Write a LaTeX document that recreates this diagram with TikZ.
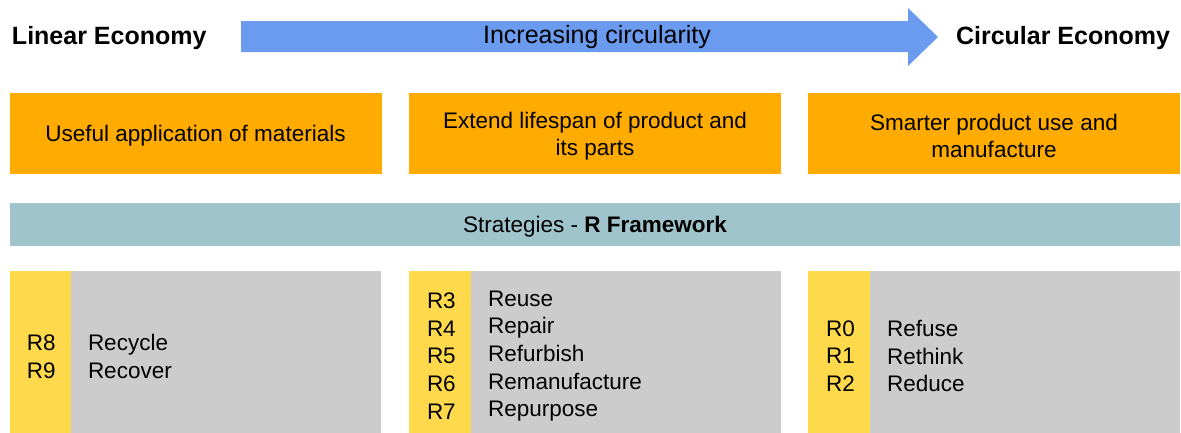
\documentclass[tikz,border=0pt]{standalone}
\usepackage{fontspec}
\setmainfont{Liberation Sans}
\begin{document}
\definecolor{arrowblue}{HTML}{6A9BEE}
\definecolor{boxorange}{HTML}{FFAB00}
\definecolor{barteal}{HTML}{9FC4CB}
\definecolor{codeyellow}{HTML}{FFD94C}
\definecolor{listgray}{HTML}{CCCCCC}
\begin{tikzpicture}[x=1pt,y=-1pt,
  every node/.style={inner sep=0pt, outer sep=0pt, text=black},
  headtext/.style={font=\fontsize{25}{30}\selectfont\bfseries},
  goalbox/.style={fill=boxorange, minimum width=372pt, minimum height=81pt},
  goaltext/.style={align=center, font=\fontsize{22.5}{27.5}\selectfont},
  codestrip/.style={fill=codeyellow, minimum width=62pt, minimum height=162pt},
  listbox/.style={fill=listgray, minimum width=310pt, minimum height=162pt},
  listtext/.style={align=left, anchor=west, font=\fontsize{22.5}{27.7}\selectfont}
]
\useasboundingbox (0,0) rectangle (1181,432);

% headings
\node[headtext, anchor=base west] (linear) at (12,44) {Linear Economy};
\node[headtext, anchor=base east] (circular) at (1170,44) {Circular Economy};

% direction arrow
\fill[arrowblue] (241,21) -- (908,21) -- (908,8) -- (938,37) -- (908,66)
  -- (908,52) -- (241,52) -- cycle;
\node[font=\fontsize{25}{30}\selectfont, anchor=base] (circ) at (597,43.5) {Increasing circularity};

% goal boxes
\node[goalbox] (goalA) at (195.5,133.5) {};
\node[goalbox] (goalB) at (595,133.5) {};
\node[goalbox] (goalC) at (994,133.5) {};
\node[goaltext] (goalAtext) at (195.5,136) {Useful application of materials};
\node[goaltext] (goalBtext) at (595,136) {Extend lifespan of product and\\its parts};
\node[goaltext] (goalCtext) at (994,136) {Smarter product use and\\manufacture};

% strategy bar
\node[fill=barteal, minimum width=1170pt, minimum height=43pt] (bar) at (595,224.5) {};
\node[font=\fontsize{22.5}{27}\selectfont, anchor=base] (bartext) at (595,232.5)
  {Strategies - \textbf{R Framework}};

% strategy columns
\node[codestrip] (stripA) at (41,352) {};
\node[listbox] (listA) at (226,352) {};
\node[codestrip] (stripB) at (440,352) {};
\node[listbox] (listB) at (626,352) {};
\node[codestrip] (stripC) at (839,352) {};
\node[listbox] (listC) at (1025,352) {};

\node[listtext] (codesA) at (27,356.5) {R8\\R9};
\node[listtext] (wordsA) at (88,356.5) {Recycle\\Recover};
\node[listtext] (codesB) at (427,356) {R3\\R4\\R5\\R6\\R7};
\node[listtext] (wordsB) at (488,356) {Reuse\\Repair\\Refurbish\\Remanufacture\\Repurpose};
\node[listtext] (codesC) at (826,356) {R0\\R1\\R2};
\node[listtext] (wordsC) at (887,356) {Refuse\\Rethink\\Reduce};
\end{tikzpicture}
\end{document}
